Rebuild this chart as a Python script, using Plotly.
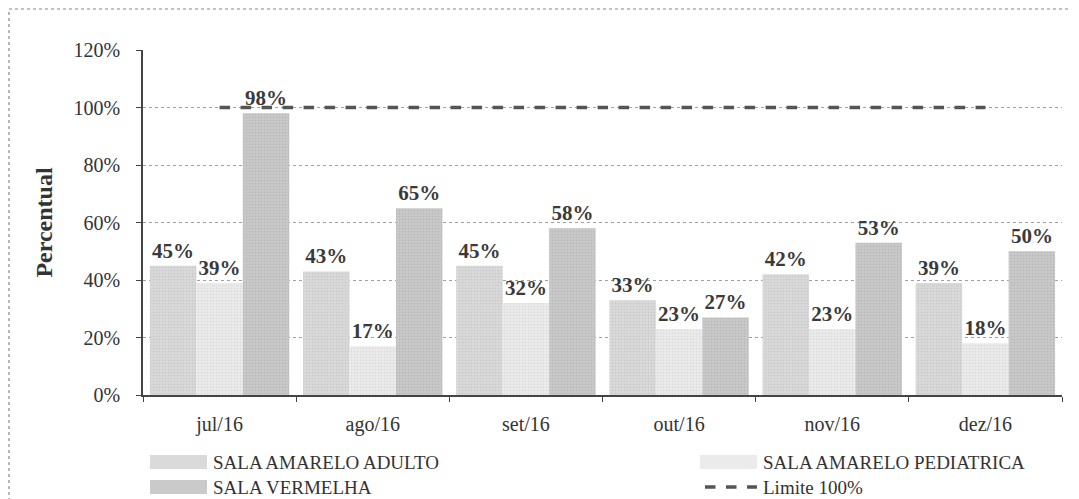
import plotly.graph_objects as go

months = ["jul/16", "ago/16", "set/16", "out/16", "nov/16", "dez/16"]
adulto = [0.45, 0.43, 0.45, 0.33, 0.42, 0.39]
pediatrica = [0.39, 0.17, 0.32, 0.23, 0.23, 0.18]
vermelha = [0.98, 0.65, 0.58, 0.27, 0.53, 0.50]
limite = [1.0, 1.0, 1.0, 1.0, 1.0, 1.0]
series_names = ["SALA AMARELO ADULTO", "SALA AMARELO PEDIATRICA", "SALA VERMELHA", "Limite 100%"]

FONT = "Liberation Serif"
label_font = dict(family=FONT, size=21, color="#3a3a3a")
TXT = "#333333"

colors = {"adulto": ("#dadada", "#b9b9b9"),
          "ped": ("#ebebeb", "#d0d0d0"),
          "verm": ("#cacaca", "#a8a8a8")}

fig = go.Figure()

def bar(name, vals, bg, fg):
    fig.add_trace(go.Bar(
        name=name, x=months, y=vals,
        marker=dict(color=bg, line=dict(width=0),
                    pattern=dict(shape=".", fgcolor=fg, bgcolor=bg, size=3, solidity=0.35)),
        texttemplate="<b>%{y:.0%}</b>", textposition="outside",
        textfont=label_font, cliponaxis=False,
    ))

bar(series_names[0], adulto, *colors["adulto"])
bar(series_names[1], pediatrica, *colors["ped"])
bar(series_names[2], vermelha, *colors["verm"])

fig.add_trace(go.Scatter(
    name=series_names[3], x=months, y=limite, mode="lines",
    line=dict(color="#555555", width=3.5, dash="dash"),
))

# manual legend (image pixel -> paper conversion; plot area spans x 143..1062, y 50..395)
def px(x):
    return (x - 143) / 919.0

def py(y):
    return (395 - y) / 345.0

shapes = [dict(type="rect", xref="paper", yref="paper",
               x0=px(9), x1=px(1072), y0=py(520), y1=py(9),
               line=dict(color="#888888", width=1.2, dash="dot"), layer="below")]
annotations = []

legend_items = [
    (series_names[0], "rect", colors["adulto"][0], 150, 462),
    (series_names[1], "rect", colors["ped"][0], 700, 462),
    (series_names[2], "rect", colors["verm"][0], 150, 487),
    (series_names[3], "line", "#555555", 700, 487),
]
for name, kind, col, x, y in legend_items:
    if kind == "rect":
        shapes.append(dict(type="rect", xref="paper", yref="paper",
                           x0=px(x), x1=px(x + 57), y0=py(y + 7), y1=py(y - 7),
                           fillcolor=col, line=dict(width=0)))
    else:
        shapes.append(dict(type="line", xref="paper", yref="paper",
                           x0=px(x + 5), x1=px(x + 57), y0=py(y), y1=py(y),
                           line=dict(color=col, width=3.5, dash="dash")))
    annotations.append(dict(text=name, xref="paper", yref="paper",
                            x=px(x + 61), y=py(y), xanchor="left", yanchor="middle",
                            showarrow=False, font=dict(family=FONT, size=19, color=TXT)))

fig.update_layout(
    width=1071, height=491,
    margin=dict(l=135, r=17, t=42, b=104),
    paper_bgcolor="white", plot_bgcolor="white",
    barmode="group", bargap=0.09, bargroupgap=0,
    font=dict(family=FONT, size=19, color=TXT),
    showlegend=False,
    xaxis=dict(showline=True, linecolor="#444444", linewidth=1.5,
               ticks="outside", tickson="boundaries", ticklen=5, tickcolor="#444444",
               ticklabelstandoff=10,
               tickfont=dict(family=FONT, size=20, color=TXT)),
    yaxis=dict(range=[0, 1.2], dtick=0.2, tickformat=".0%",
               showline=True, linecolor="#444444", linewidth=1.5,
               ticks="outside", ticklen=5, tickcolor="#444444",
               ticklabelstandoff=12,
               showgrid=True, gridcolor="#a0a0a0", griddash="dot", gridwidth=1,
               tickfont=dict(family=FONT, size=20, color=TXT),
               title=dict(text="<b>Percentual</b>", font=dict(family=FONT, size=24, color=TXT),
                          standoff=14)),
    shapes=shapes,
    annotations=annotations,
)

fig.write_html("out.html")
